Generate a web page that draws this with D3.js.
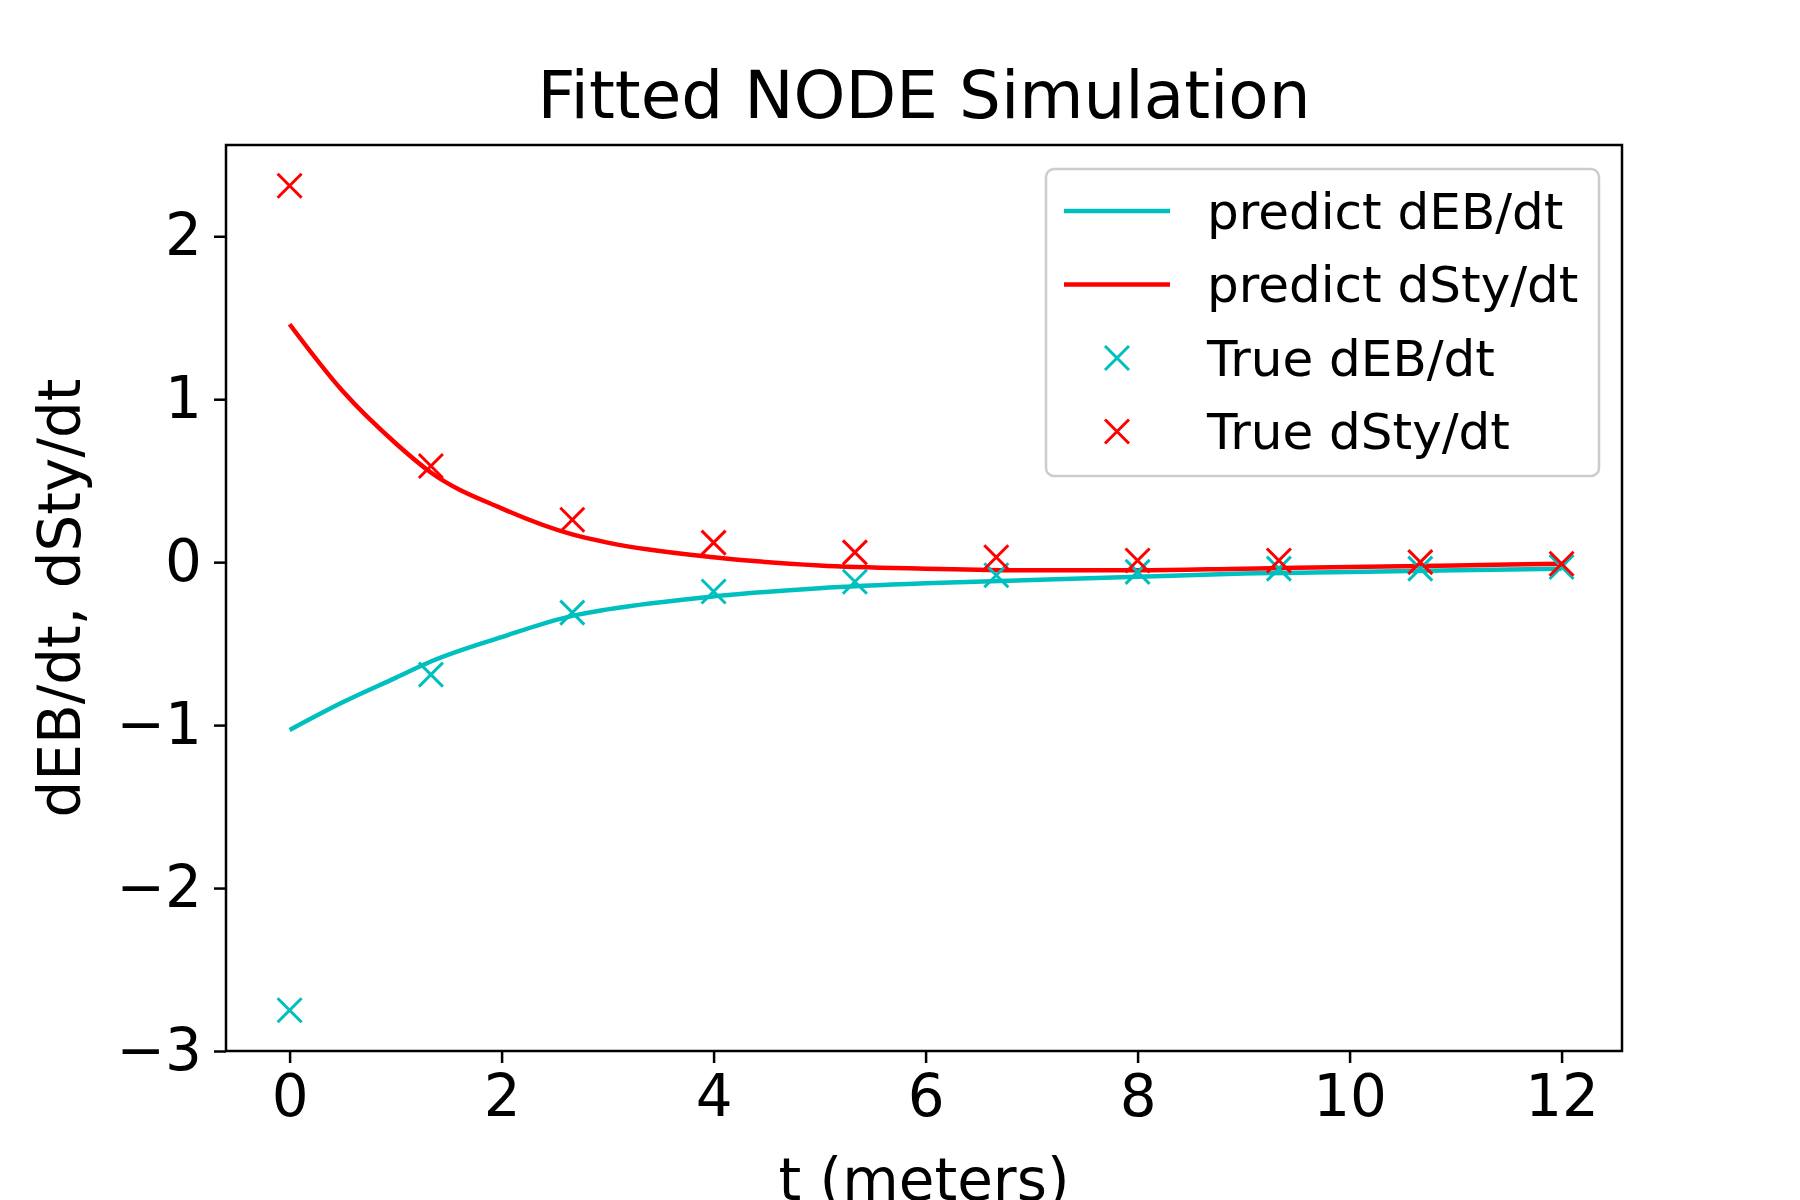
<!DOCTYPE html>
<html><head><meta charset="utf-8">
<script src="https://cdn.jsdelivr.net/npm/d3@7"></script>
<style>body{margin:0;background:#fff}text{font-family:"DejaVu Sans",sans-serif}</style>
</head><body>
<script>
// observed points
var tObs = [0, 1.333, 2.667, 4, 5.333, 6.667, 8, 9.333, 10.667, 12];
var trueEB = [-2.75, -0.69, -0.31, -0.18, -0.12, -0.08, -0.06, -0.04, -0.04, -0.03];
var trueSty = [2.31, 0.59, 0.26, 0.12, 0.06, 0.03, 0.01, 0.01, 0.0, -0.01];

// fitted curves
var tFit = [0, 0.5, 1, 1.333, 2, 2.667, 3, 4, 5, 6, 7, 8, 9, 10, 11, 12];
var predEB = [-1.03, -0.86, -0.71, -0.61, -0.46, -0.33, -0.29, -0.21, -0.16, -0.13, -0.11, -0.09, -0.07, -0.06, -0.05, -0.04];
var predSty = [1.46, 1.05, 0.73, 0.55, 0.33, 0.17, 0.12, 0.03, -0.02, -0.04, -0.05, -0.05, -0.04, -0.03, -0.02, -0.01];

var xTicks = [0, 2, 4, 6, 8, 10, 12];
var yTicks = [-3, -2, -1, 0, 1, 2];

var svg = d3.select("body").append("svg").attr("width", 1800).attr("height", 1200);
var plotLeft = 226, plotRight = 1622, plotTop = 145, plotBottom = 1051;

var x = d3.scaleLinear().domain([-0.6, 12.57]).range([plotLeft, plotRight]);
var y = d3.scaleLinear().domain([-3, 2.56]).range([plotBottom, plotTop]);

// axes
var xAxis = svg.append("g").attr("transform", `translate(0,${plotBottom})`)
  .call(d3.axisBottom(x).tickValues(xTicks).tickSize(12).tickPadding(12).tickFormat(d3.format("d")));
var yAxis = svg.append("g").attr("transform", `translate(${plotLeft},0)`)
  .call(d3.axisLeft(y).tickValues(yTicks).tickSize(12).tickPadding(12).tickFormat(d => d < 0 ? "\u2212" + Math.abs(d) : d));
[xAxis, yAxis].forEach(function(a) {
  a.select(".domain").remove();
  a.selectAll("line").attr("stroke", "#000").attr("stroke-width", 2.5);
  a.selectAll("text").attr("font-size", 58).attr("fill", "#000").style("font-family", "DejaVu Sans");
});

svg.append("rect").attr("x", plotLeft).attr("y", plotTop).attr("width", plotRight - plotLeft).attr("height", plotBottom - plotTop)
  .attr("fill", "none").attr("stroke", "#000").attr("stroke-width", 2.5);

var line = d3.line().curve(d3.curveMonotoneX);
svg.append("path").attr("d", line(tFit.map((t, i) => [x(t), y(predEB[i])])))
  .attr("fill", "none").attr("stroke", "#00bfbf").attr("stroke-width", 4.5);
svg.append("path").attr("d", line(tFit.map((t, i) => [x(t), y(predSty[i])])))
  .attr("fill", "none").attr("stroke", "#ff0000").attr("stroke-width", 4.5);

function cross(g, cx, cy, color) {
  var s = 12;
  g.append("path").attr("d", `M${cx - s},${cy - s}L${cx + s},${cy + s}M${cx - s},${cy + s}L${cx + s},${cy - s}`)
    .attr("stroke", color).attr("stroke-width", 3).attr("fill", "none");
}
var marks = svg.append("g");
tObs.forEach(function(t, i) { cross(marks, x(t), y(trueEB[i]), "#00bfbf"); });
tObs.forEach(function(t, i) { cross(marks, x(t), y(trueSty[i]), "#ff0000"); });

// legend
var lg = svg.append("g");
lg.append("rect").attr("x", 1046).attr("y", 169).attr("width", 553).attr("height", 307).attr("rx", 8)
  .attr("fill", "#fff").attr("fill-opacity", 0.8).attr("stroke", "#ccc").attr("stroke-width", 2.5);
var items = [
  {label: "predict dEB/dt", color: "#00bfbf", type: "line"},
  {label: "predict dSty/dt", color: "#ff0000", type: "line"},
  {label: "True dEB/dt", color: "#00bfbf", type: "x"},
  {label: "True dSty/dt", color: "#ff0000", type: "x"}
];
items.forEach(function(it, i) {
  var yy = 211 + i * 73.5;
  if (it.type === "line") lg.append("line").attr("x1", 1064).attr("x2", 1170).attr("y1", yy).attr("y2", yy)
    .attr("stroke", it.color).attr("stroke-width", 4.5);
  else cross(lg, 1117, yy, it.color);
  lg.append("text").attr("x", 1207).attr("y", yy).attr("dy", "0.35em").attr("font-size", 50).text(it.label);
});

svg.append("text").attr("x", (plotLeft + plotRight) / 2).attr("y", 118).attr("text-anchor", "middle")
  .attr("font-size", 66).text("Fitted NODE Simulation");
svg.append("text").attr("x", (plotLeft + plotRight) / 2).attr("y", 1200).attr("text-anchor", "middle")
  .attr("font-size", 58).text("t (meters)");
svg.append("text").attr("transform", `translate(80,${(plotTop + plotBottom) / 2}) rotate(-90)`).attr("text-anchor", "middle")
  .attr("font-size", 58).text("dEB/dt, dSty/dt");
</script>
</body></html>
